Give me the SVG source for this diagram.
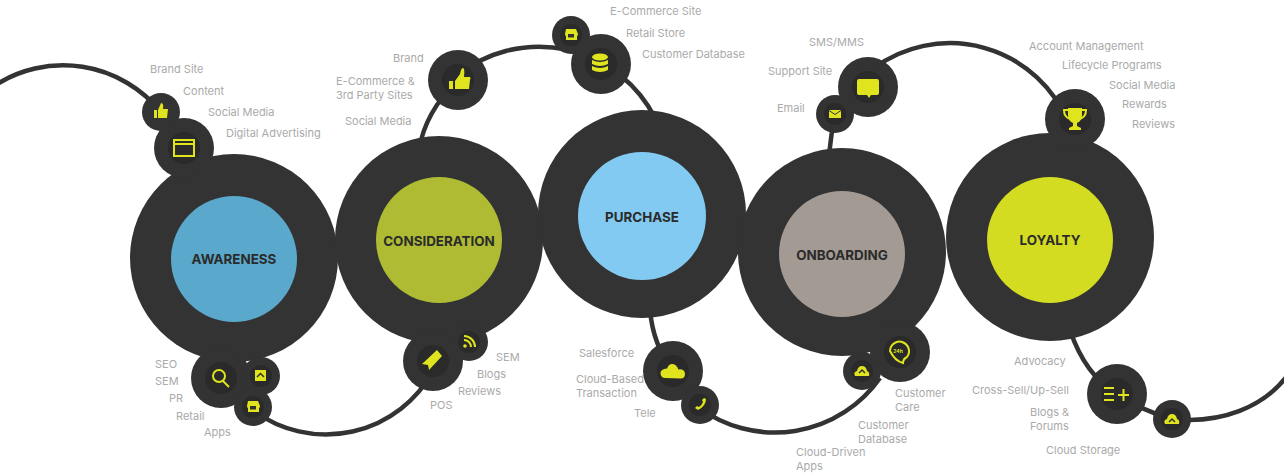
<svg xmlns="http://www.w3.org/2000/svg" width="1284" height="475" viewBox="0 0 1284 475">
<style>
.bg{fill:#fff}
.c{fill:none;stroke:#333;stroke-width:4.5}
.o{fill:#333}
.h{fill:#2a2a2a}
.y{fill:#dfe41e}
.ys{fill:none;stroke:#dfe41e;stroke-width:2}
.d{fill:#333}
.l{font:400 11px Inter,"Liberation Sans",sans-serif;fill:#aaa}
.t{font:700 13.4px Inter,"Liberation Sans",sans-serif;fill:#2b2b2b;text-anchor:middle}
</style>
<rect class="bg" width="1284" height="475"/>
<g id="connectors">
<path class="c" d="M-6 86A126 126 0 0 1 161 112"/>
<path class="c" d="M254 411A122 122 0 0 0 433 371"/>
<path class="c" d="M419 150Q425 112 458 80"/>
<path class="c" d="M458 75A130 130 0 0 1 655 118"/>
<path class="c" d="M650 310Q653 345 673 371"/>
<path class="c" d="M698 407A128.500 128.500 0 0 0 880 378"/>
<path class="c" d="M829 155Q831 135 835 114"/>
<path class="c" d="M874 68A128 128 0 0 1 1068 122"/>
<path class="c" d="M1070 330Q1085 375 1117 394"/>
<path class="c" d="M1117 394Q1145 412 1172 419"/>
<path class="c" d="M1172 419C1220 424 1265 408 1290 372"/>
</g>
<g id="awareness"><circle class="o" cx="234" cy="258" r="104"/><circle cx="234" cy="259" r="63" fill="#5aa9cc"/><text class="t" x="234" y="264">AWARENESS</text></g>
<g id="consideration"><circle class="o" cx="439" cy="240" r="104"/><circle cx="439" cy="240" r="63" fill="#afbb33"/><text class="t" x="439" y="246">CONSIDERATION</text></g>
<g id="purchase"><circle class="o" cx="642" cy="214" r="104"/><circle cx="642" cy="216" r="64" fill="#82caf1"/><text class="t" x="642" y="222">PURCHASE</text></g>
<g id="onboarding"><circle class="o" cx="842" cy="252" r="104"/><circle cx="842" cy="254" r="63" fill="#a39a93"/><text class="t" x="842" y="260">ONBOARDING</text></g>
<g id="loyalty"><circle class="o" cx="1050" cy="237" r="104"/><circle cx="1050" cy="240" r="63" fill="#d4dc22"/><text class="t" x="1050" y="245">LOYALTY</text></g>

<g id="n-thumb-a"><circle class="o" cx="161" cy="112" r="19"/><path class="y" d="M154 110h3v8h-3zM158 110l3-7q3 0 2 6h5l-1 9h-9z"/></g>
<g id="n-browser"><circle class="o" cx="184" cy="148" r="30"/><circle class="h" cx="184" cy="148" r="16"/><rect class="ys" x="174" y="140" width="20" height="16"/><path class="ys" d="M174 144h20" stroke-width="1"/></g>
<g id="n-search"><circle class="o" cx="221" cy="378" r="30"/><circle class="h" cx="221" cy="378" r="16"/><circle class="ys" cx="219" cy="376" r="6" stroke-width="3"/><path class="ys" d="M223 381l6 6" stroke-width="3.500"/></g>
<g id="n-apps"><circle class="o" cx="261" cy="376" r="19"/><circle class="h" cx="261" cy="376" r="11"/><rect class="y" x="255" y="370" width="11" height="11"/><path d="M257 377l3.500-3.500 3.500 3.500" fill="none" stroke="#333" stroke-width="1.500"/></g>
<g id="n-retail-a"><circle class="o" cx="253" cy="407" r="19"/><circle class="h" cx="253" cy="407" r="11"/><path class="y" d="M248 401h10l2 5q0 2-1 2v4h-11v-4q-1 0-1-2z"/><rect class="d" x="250" y="406" width="6" height="3.500"/></g>
<g id="n-pos"><circle class="o" cx="433" cy="361" r="30"/><circle class="h" cx="433" cy="361" r="16"/><path class="y" d="M422 364l15-14 5 6-13 14-1-5z"/></g>
<g id="n-rss"><circle class="o" cx="469" cy="342" r="19"/><circle class="h" cx="469" cy="342" r="11"/><circle class="y" cx="465" cy="346" r="1.800"/><path class="ys" d="M464 340a7 7 0 0 1 7 7M464 336a11 11 0 0 1 11 11"/></g>
<g id="n-thumb-b"><circle class="o" cx="458" cy="80" r="30"/><circle class="h" cx="458" cy="80" r="16"/><path class="y" d="M449 81h4v8h-4zM455 81l5-7q1-6 3-6 2 0 1 9h6q1 1 0 3l-1 9h-14z"/></g>
<g id="n-retail-b"><circle class="o" cx="571" cy="35" r="19"/><circle class="h" cx="571" cy="35" r="11"/><path class="y" d="M566 29h10l2 5q0 2-1 2v4h-11v-4q-1 0-1-2z"/><rect class="d" x="568" y="34" width="6" height="3.500"/></g>
<g id="n-database"><circle class="o" cx="601" cy="64" r="30"/><circle class="h" cx="601" cy="64" r="16"/><ellipse class="y" cx="600" cy="57" rx="8" ry="3.500"/><path class="y" d="M592 60q8 4 16 0v4q-8 4-16 0zM592 66q8 4 16 0v4q-8 4-16 0z"/></g>
<g id="n-cloud"><circle class="o" cx="673" cy="371" r="30"/><circle class="h" cx="673" cy="371" r="16"/><path class="y" d="M665 378a4.500 4.500 0 0 1-2-8.500q2-1 4-1 3-7 9-3 2 2 2 4 6-1 7 4 0 5-4 5z"/></g>
<g id="n-tele"><circle class="o" cx="700" cy="405" r="19"/><circle class="h" cx="700" cy="405" r="11"/><path class="y" d="M695 408l2-2 2 1q3-2 4-5l-1-2 2-2 2 1q0 7-8 11z"/></g>
<g id="n-cloud-apps"><circle class="o" cx="862" cy="371" r="19"/><circle class="h" cx="862" cy="371" r="11"/><path class="y" d="M855 376q-2-4 2-5 1-5 5-5t5 5q3 1 2 5z"/><path d="M859 373l3-3 3 3" fill="none" stroke="#333" stroke-width="1.500"/></g>
<g id="n-care"><circle class="o" cx="900" cy="352" r="30"/><circle class="h" cx="900" cy="352" r="16"/><path class="ys" d="M890 351a9.500 9.500 0 1 1 17 6q-4 2-4 6-8-2-13-12z" stroke-width="3"/><text x="898" y="353" font-family="Inter,sans-serif" font-size="5" font-weight="700" fill="#dfe41e" text-anchor="middle">24h</text></g>
<g id="n-email"><circle class="o" cx="835" cy="114" r="19"/><circle class="h" cx="835" cy="114" r="11"/><rect class="y" x="829" y="110" width="12" height="8"/><path d="M829 110.500l6 4 6-4" fill="none" stroke="#333"/></g>
<g id="n-chat"><circle class="o" cx="868" cy="87" r="30"/><circle class="h" cx="868" cy="87" r="16"/><path class="y" d="M859 79h18q2 0 2 2v12q0 2-2 2h-6l-2 3-2-3h-8q-2 0-2-2v-12q0-2 2-2z"/></g>
<g id="n-trophy"><circle class="o" cx="1075" cy="119" r="30"/><circle class="h" cx="1075" cy="119" r="16"/><path class="y" d="M1068 108h14v7q0 6-5 8v3l4 2v2h-12v-2l4-2v-3q-5-2-5-8z"/><path class="ys" d="M1068 110h-4q0 7 6 9M1082 110h4q0 7-6 9"/></g>
<g id="n-eplus"><circle class="o" cx="1117" cy="394" r="30"/><circle class="h" cx="1117" cy="394" r="16"/><path class="ys" d="M1104 388h10M1104 394h10M1104 400h10M1118 395h11M1123.500 389v12" stroke-width="2.500"/></g>
<g id="n-storage"><circle class="o" cx="1172" cy="419" r="19"/><circle class="h" cx="1172" cy="419" r="11"/><path class="y" d="M1165 424q-2-4 2-5 1-5 5-5t5 5q3 1 2 5z"/><path d="M1169 422l3-3 3 3" fill="none" stroke="#333" stroke-width="1.500"/></g>

<g id="labels">
<text class="l" x="150" y="73">Brand Site</text>
<text class="l" x="183" y="95">Content</text>
<text class="l" x="208" y="116">Social Media</text>
<text class="l" x="226" y="137">Digital Advertising</text>
<text class="l" x="155" y="368">SEO</text>
<text class="l" x="155" y="385">SEM</text>
<text class="l" x="169" y="402">PR</text>
<text class="l" x="176" y="420">Retail</text>
<text class="l" x="204" y="436">Apps</text>
<text class="l" x="393" y="62">Brand</text>
<text class="l" x="336" y="85">E-Commerce &amp;</text>
<text class="l" x="336" y="99">3rd Party Sites</text>
<text class="l" x="345" y="125">Social Media</text>
<text class="l" x="430" y="409">POS</text>
<text class="l" x="458" y="395">Reviews</text>
<text class="l" x="477" y="378">Blogs</text>
<text class="l" x="496" y="361">SEM</text>
<text class="l" x="610" y="15">E-Commerce Site</text>
<text class="l" x="626" y="37">Retail Store</text>
<text class="l" x="642" y="58">Customer Database</text>
<text class="l" x="579" y="357">Salesforce</text>
<text class="l" x="576" y="383">Cloud-Based</text>
<text class="l" x="576" y="397">Transaction</text>
<text class="l" x="634" y="417">Tele</text>
<text class="l" x="796" y="456">Cloud-Driven</text>
<text class="l" x="796" y="470">Apps</text>
<text class="l" x="858" y="429">Customer</text>
<text class="l" x="858" y="443">Database</text>
<text class="l" x="895" y="397">Customer</text>
<text class="l" x="895" y="411">Care</text>
<text class="l" x="809" y="46">SMS/MMS</text>
<text class="l" x="768" y="75">Support Site</text>
<text class="l" x="777" y="112">Email</text>
<text class="l" x="1029" y="50">Account Management</text>
<text class="l" x="1062" y="69">Lifecycle Programs</text>
<text class="l" x="1109" y="89">Social Media</text>
<text class="l" x="1122" y="108">Rewards</text>
<text class="l" x="1132" y="128">Reviews</text>
<text class="l" x="1014" y="365">Advocacy</text>
<text class="l" x="972" y="394">Cross-Sell/Up-Sell</text>
<text class="l" x="1030" y="416">Blogs &amp;</text>
<text class="l" x="1030" y="430">Forums</text>
<text class="l" x="1046" y="454">Cloud Storage</text>
</g>
</svg>
